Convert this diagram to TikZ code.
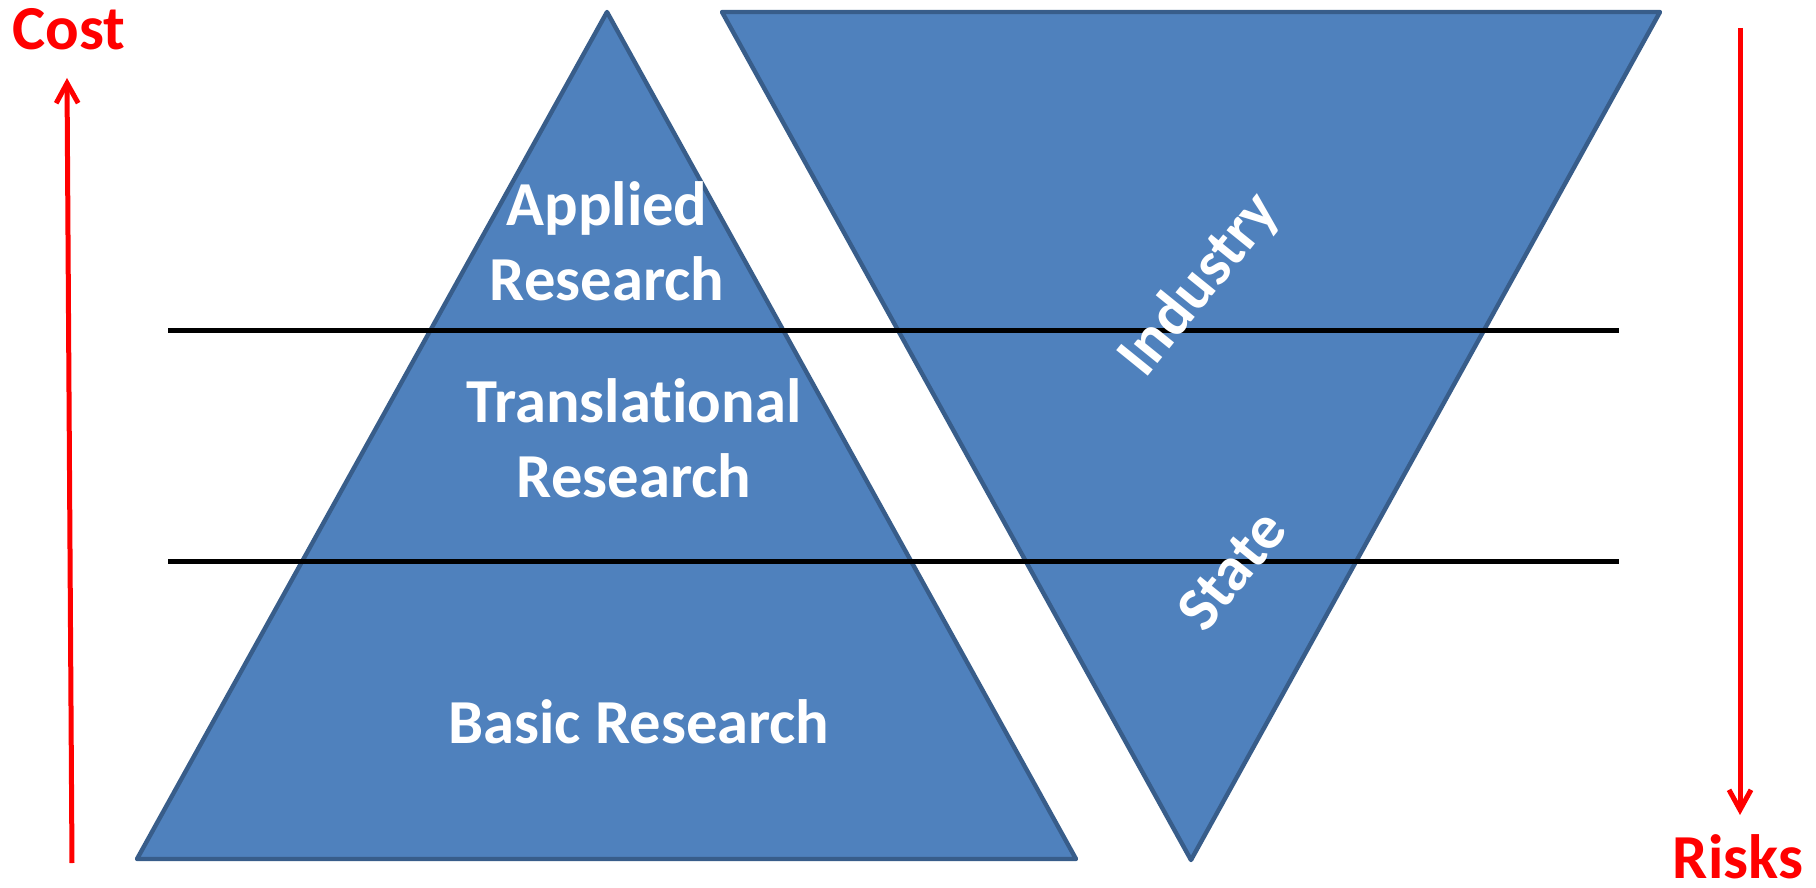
\documentclass[tikz,border=0pt]{standalone}
\usepackage{fontspec}
\setmainfont{Carlito}
\usetikzlibrary{arrows.meta}

\definecolor{trifill}{HTML}{4F81BD}
\definecolor{triedge}{HTML}{385D8A}

\begin{document}
\begin{tikzpicture}[x=0.5pt, y=-0.5pt,
tri/.style={draw=triedge, fill=trifill, line width=2.2pt, line join=round},
bar/.style={draw=black, line width=2.5pt},
axis/.style={draw=red, line width=2.5pt, -{Straight Barb[length=10pt, width=11pt]}},
lbl/.style={text=white, font=\bfseries\fontsize{31.3}{37.5}\selectfont, align=center, inner sep=0pt},
tag/.style={text=red, font=\bfseries\fontsize{31.3}{37.5}\selectfont, inner sep=0pt}]

\useasboundingbox (0,0) rectangle (1816,888);

% pyramid of research
\coordinate (P1) at (607,12);
\coordinate (P2) at (1076,859);
\coordinate (P3) at (137,859);
\draw[tri] (P1) -- (P2) -- (P3) -- cycle;

% funding, upside down
\coordinate (F1) at (722,12);
\coordinate (F2) at (1660,12);
\coordinate (F3) at (1191,860);
\draw[tri] (F1) -- (F2) -- (F3) -- cycle;

% levels
\coordinate (L1a) at (168,330);
\coordinate (L1b) at (1619,330);
\coordinate (L2a) at (168,561);
\coordinate (L2b) at (1619,561);
\draw[bar] (L1a) -- (L1b);
\draw[bar] (L2a) -- (L2b);

% anchor=base sits on the last line; kern keeps t and i apart
\node[lbl, anchor=base]		(applied) at (607,300)	{Applied\\Research};
\node[lbl, anchor=base]		(transl) at (634,497)	{Translat\kern0pt ional\\Research};
\node[lbl, anchor=base]		(basic) at (639,743)	{Basic Research};
\node[lbl, anchor=base, rotate=51]	(industry) at (1213,296)	{Industry};
\node[lbl, anchor=base, rotate=51]	(state) at (1247,583)	{State};

% axes
\node[tag, anchor=base]		(cost) at (69,50)	{Cost};
\node[tag, anchor=base]		(risks) at (1738,878)	{Risks};
\coordinate (C0) at (72,863);
\coordinate (C1) at (67,78);
\coordinate (R0) at (1740,28);
\coordinate (R1) at (1740,815);
\draw[axis] (C0) -- (C1);
\draw[axis] (R0) -- (R1);

\end{tikzpicture}
\end{document}
